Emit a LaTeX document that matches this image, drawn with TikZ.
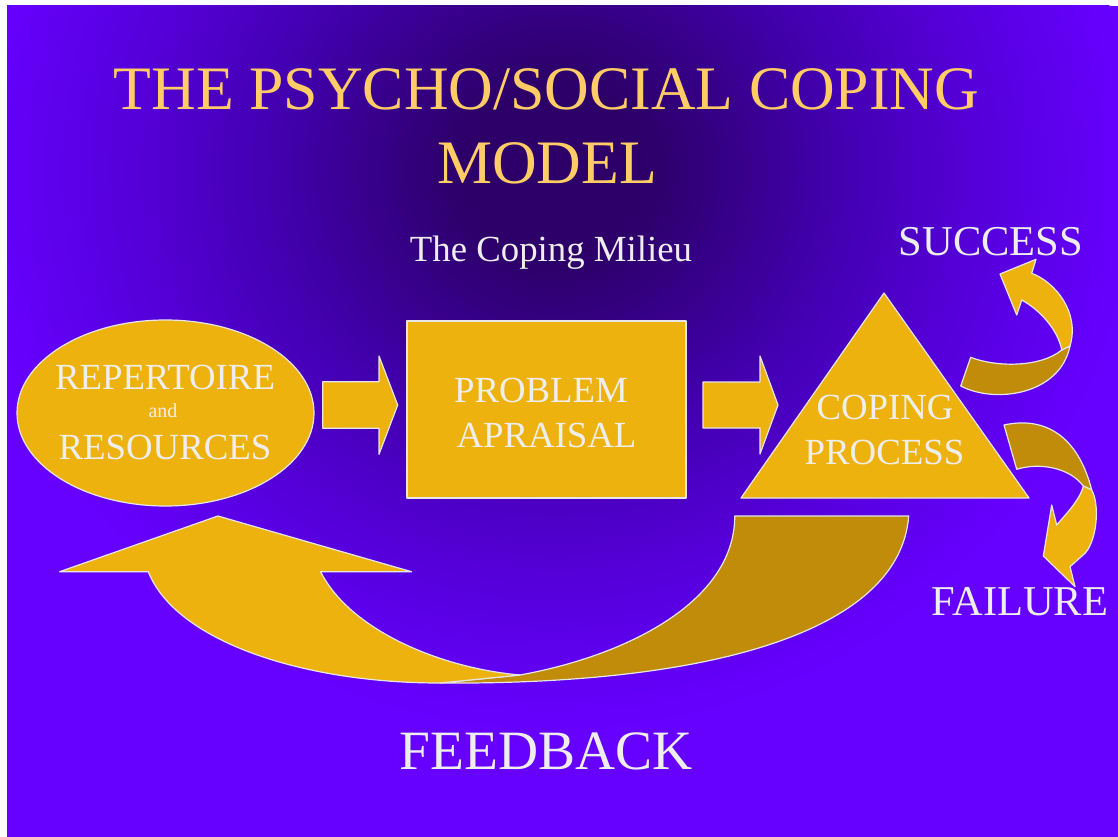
\documentclass[tikz,border=0pt]{standalone}
\usepackage{fontspec}
\setmainfont{Liberation Serif}
\usetikzlibrary{shapes.geometric}

\definecolor{slidebg}{HTML}{6600FF}
\definecolor{slidedeep}{HTML}{2C0068}
\definecolor{slidemid}{HTML}{4200AE}
\definecolor{slidesoft}{HTML}{5700DE}
\definecolor{gold}{HTML}{EEB20F}
\definecolor{goldback}{HTML}{C08C0A}
\definecolor{rim}{HTML}{E6E6E6}
\definecolor{titlegold}{HTML}{FFCC66}
\definecolor{paletext}{HTML}{EEEEEE}

% dark haze behind the heading (the path's box maps to +-25bp)
\pgfdeclareradialshading{milieu}{\pgfpoint{0bp}{0bp}}{%
  color(0bp)=(slidedeep); color(4bp)=(slidedeep); color(12bp)=(slidemid);
  color(19bp)=(slidesoft); color(25bp)=(slidebg); color(50bp)=(slidebg)}

\tikzset{
  shapefill/.style={fill=gold, draw=rim, line width=1.2pt, line join=round},
  backfill/.style={fill=goldback, draw=rim, line width=1.2pt, line join=round},
  lbl/.style={text=paletext, anchor=base, inner sep=0pt,
              font=\fontsize{36.8}{40}\selectfont},
  heading/.style={lbl, text=titlegold, font=\fontsize{61.8}{70}\selectfont},
}

\begin{document}
\begin{tikzpicture}[x=1pt, y=-1pt]
  \useasboundingbox (0,0) rectangle (1118,837);
  \fill[white] (0,0) rectangle (1118,837);

  % slide background
  \begin{scope}
    \clip (7,6) rectangle (1118,837);
    \fill[slidebg] (7,6) rectangle (1118,837);
    \shade[shading=milieu] (555,170) ellipse [x radius=580, y radius=560];
  \end{scope}

  % headings
  \node[heading] (title1) at (546.5,110) {THE PSYCHO/SOCIAL COPING};
  \node[heading] (title2) at (547,183) {MODEL};
  \node[lbl] (milieu) at (551,261) {The Coping Milieu};

  % the three stages
  \node[shapefill, ellipse, minimum width=297, minimum height=186, inner sep=0pt]
    (repert) at (165.5,413) {};
  \node[shapefill, rectangle, minimum width=279, minimum height=177, inner sep=0pt]
    (apprais) at (546.5,409.5) {};
  \draw[shapefill] (884,293) coordinate (apex) -- (741,498) coordinate (cl)
    -- (1029,498) coordinate (cr) -- cycle;

  \node[lbl] (rep1) at (165,389) {REPERTOIRE};
  \node[lbl, font=\fontsize{20}{22}\selectfont] (repand) at (163,417.7) {and};
  \node[lbl] (rep2) at (165,459) {RESOURCES};
  \node[lbl] (prob1) at (541,402) {PROBLEM};
  \node[lbl] (prob2) at (546.5,447) {APRAISAL};
  \node[lbl] (cope1) at (885,419) {COPING};
  \node[lbl] (cope2) at (884.5,464) {PROCESS};

  % block arrows between the stages
  \draw[shapefill] (322.7,381.7) -- (379,381.7) -- (379,356) -- (397.7,405)
    -- (379,454.3) -- (379,428.3) -- (322.7,428.3) -- cycle;
  \draw[shapefill] (703,382) -- (760,382) -- (760,356) -- (778,405)
    -- (760,454) -- (760,428) -- (703,428) -- cycle;

  % twisted arrow up to success
  \draw[backfill] (970.7,357.3) -- (960.7,386)
    .. controls (995,404) and (1060,395) .. (1070,346)
    -- (1061.7,350)
    .. controls (1040,368) and (995,367) .. (970.7,357.3) -- cycle;
  \draw[shapefill] (1061.7,350)
    .. controls (1058,330) and (1040,310) .. (1021.7,300)
    -- (1016.7,315) -- (1000,274) -- (1036,259.3) -- (1031.7,273.3)
    .. controls (1055,282) and (1080,312) .. (1070,346) -- cycle;

  % twisted arrow down to failure
  \draw[backfill] (1004,425) -- (1016.7,469.3)
    .. controls (1040,462) and (1070,468) .. (1083.3,486)
    -- (1091.7,490)
    .. controls (1078,436) and (1045,416) .. (1004,425) -- cycle;
  \draw[shapefill] (1083.3,486)
    .. controls (1080,500) and (1065,515) .. (1056.7,525)
    -- (1051.7,505) -- (1043.3,556) -- (1075,586.7) -- (1070,566.7)
    -- (1085,553.3)
    .. controls (1097,540) and (1100,505) .. (1091.7,490) -- cycle;

  % feedback loop back to the repertoire
  \draw[backfill] (734.7,516) -- (908.7,516)
    .. controls (900,630) and (715,685) .. (440,683)
    -- (520,675)
    .. controls (630,655) and (735,600) .. (734.7,516) -- cycle;
  \draw[shapefill] (148.3,571.7)
    .. controls (175,640) and (300,683) .. (440,683)
    -- (520,675)
    .. controls (440,668) and (350,630) .. (320.6,571.7)
    -- (411.5,571.7) -- (217.9,516) -- (59.6,571.7) -- cycle;

  % outcome labels
  \node[lbl, font=\fontsize{42.5}{46}\selectfont] (succ) at (991,255) {SUCCESS};
  \node[lbl, font=\fontsize{42.5}{46}\selectfont] (fail) at (1020,615) {FAILURE};
  \node[lbl, font=\fontsize{55.5}{60}\selectfont] (feedb) at (546,769.5) {FEEDBACK};
\end{tikzpicture}
\end{document}
